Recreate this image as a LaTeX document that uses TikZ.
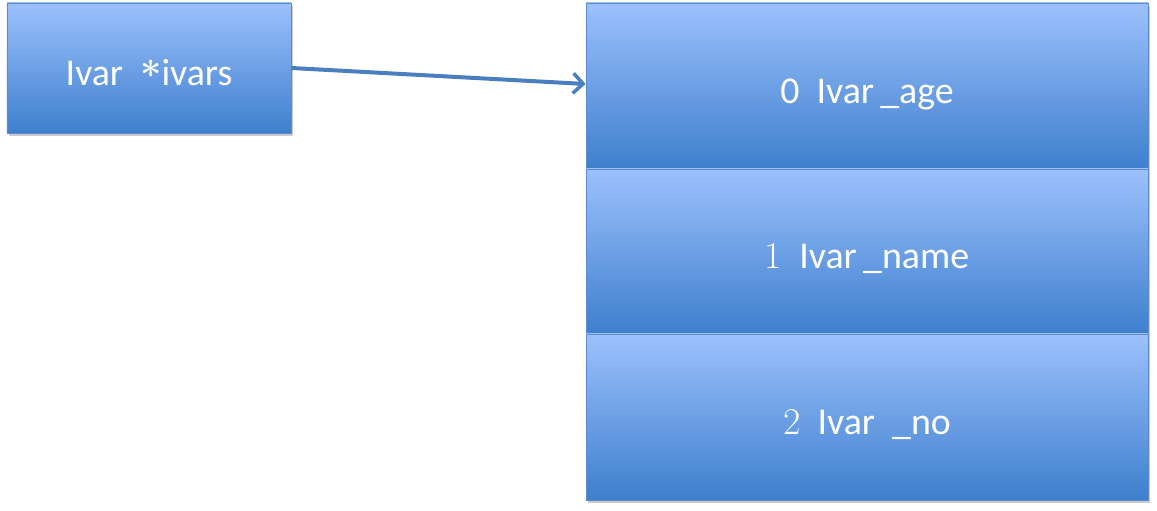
\documentclass[tikz,border=0pt]{standalone}
\usepackage{fontspec}
\setmainfont{Carlito}
\newfontfamily\digitfont{Latin Modern Roman}
\usetikzlibrary{shadows,arrows.meta}
\definecolor{boxtop}{RGB}{156,193,253}
\definecolor{boxbot}{RGB}{62,127,205}
\definecolor{boxline}{RGB}{92,140,205}
\definecolor{arrowc}{RGB}{74,126,191}
\tikzset{
  cell/.style={draw=boxline, line width=0.8bp, top color=boxtop, bottom color=boxbot,
    text=white, font=\fontsize{38}{40}\selectfont, inner sep=0pt,
    text height=35bp, text depth=0bp,
    drop shadow={shadow xshift=2bp, shadow yshift=-3bp, opacity=0.35, fill=black!60}},
  link/.style={draw=arrowc, line width=4bp, -{Straight Barb[length=10bp,width=20bp,line width=3.5bp]}}
}
\begin{document}
\begin{tikzpicture}[x=1bp,y=-1bp]
\useasboundingbox (0,0) rectangle (1157,511);
\node[cell, minimum width=284bp, minimum height=130bp] (ptr) at (149,68) {Ivar\ \ {\digitfont\raisebox{-3bp}{\textbf{*}}}ivars};
\node[cell, minimum width=562bp, minimum height=166bp] (r0) at (867,86) {0\ \ Ivar\,\_age};
\node[cell, minimum width=562bp, minimum height=165bp] (r1) at (867,251.5) {{\digitfont 1}\ \ Ivar\,\_name};
\node[cell, minimum width=562bp, minimum height=166bp] (r2) at (867,417) {{\digitfont 2}\ \ Ivar\ \ \_no};
\draw[link] (ptr.east) -- ([yshift=2bp]r0.west);
\end{tikzpicture}
\end{document}
